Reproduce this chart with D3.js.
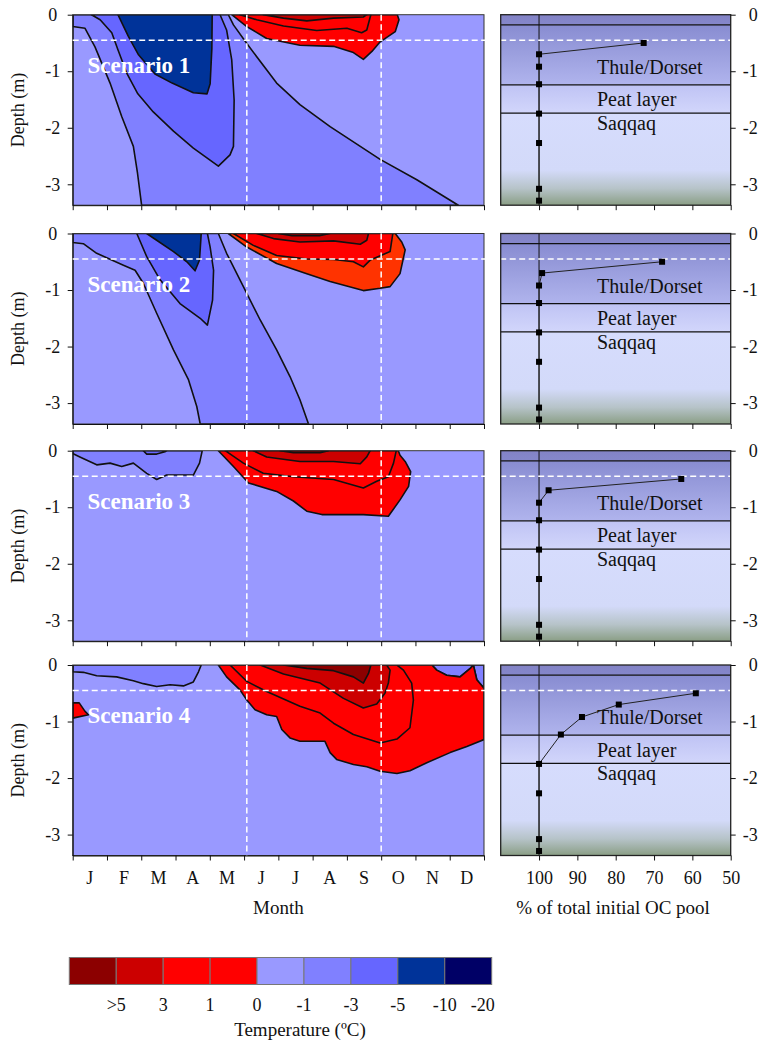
<!DOCTYPE html>
<html>
<head>
<meta charset="utf-8">
<script src="https://cdn.jsdelivr.net/npm/d3@7"></script>
<style>
  body { margin: 0; background: #fff; }
  svg { display: block; }
  svg text { font-family: "Liberation Serif", "DejaVu Serif", serif; }
</style>
</head>
<body>
<svg width="762" height="1043"></svg>
<script>
// ---- data ----
const months = ["J", "F", "M", "A", "M", "J", "J", "A", "S", "O", "N", "D"];
const monthTicks = [0, 1, 2, 3, 4, 5, 6, 7, 8, 9, 10, 11, 12];
const depthTicks = [0, -1, -2, -3];
const ocTicks = [100, 90, 80, 70, 60, 50];
const scenarioNames = ["Scenario 1", "Scenario 2", "Scenario 3", "Scenario 4"];

// sampled depths (m) for the OC profiles and % of initial OC pool left
const sampleDepths = [-0.5, -0.7, -0.92, -1.23, -1.75, -2.27, -3.08, -3.29];
const ocScenario1 = [72.7, 100, 100, 100, 100, 100, 100, 100];
const ocScenario2 = [67.9, 99.2, 100, 100, 100, 100, 100, 100];
const ocScenario3 = [62.9, 97.5, 100, 100, 100, 100, 100, 100];
const ocScenario4 = [59.1, 79.2, 88.8, 94.3, 100, 100, 100, 100];

const layerNames = ["", "Thule/Dorset", "Peat layer", "Saqqaq"];
const layerTops = [0, -0.18, -1.24, -1.74];
const layerBottoms = [-0.18, -1.24, -1.74, -3.37];

const thawDepth = -0.45;          // white dashed horizontal
const markerMonths = [5.08, 9.0];  // white dashed verticals

const legendKeys = ["gt5", "gt3", "gt1", "gt0", "lt0", "lt1", "lt3", "lt5", "lt10"];
const legendLabels = [">5", "3", "1", "0", "-1", "-3", "-5", "-10", "-20"];

// temperature isolines as [month, depth] polygons, in drawing order
const scenario1Bands = [
  ["lt1", [[0,0],[0,-0.21],[0.36,-0.24],[0.65,-0.57],[1.09,-1.21],[1.43,-1.80],[1.77,-2.33],[1.89,-2.80],[2.01,-3.37],[11.25,-3.37],[10.04,-2.92],[8.97,-2.56],[7.51,-1.98],[6.63,-1.59],[5.95,-1.21],[5.08,-0.51],[4.69,-0.18],[4.54,0]]],
  ["lt3", [[0.55,0],[0.80,-0.09],[1.14,-0.32],[1.32,-0.62],[1.58,-1.04],[1.90,-1.40],[2.35,-1.72],[2.94,-2.06],[3.52,-2.36],[4.25,-2.68],[4.59,-2.48],[4.69,-2.33],[4.71,-1.51],[4.64,-0.80],[4.49,-0.27],[4.30,0]]],
  ["lt5", [[1.32,0],[1.62,-0.38],[1.92,-0.71],[2.40,-1.05],[2.90,-1.21],[3.52,-1.38],[3.92,-1.40],[4.01,-1.22],[4.06,-0.60],[4.07,0]]],
  ["gt0", [[4.64,0],[5.08,-0.21],[5.66,-0.42],[6.63,-0.54],[7.61,-0.56],[8.19,-0.67],[8.48,-0.79],[8.73,-0.65],[8.97,-0.48],[9.41,-0.30],[9.52,-0.09],[9.47,0]]],
  ["gt1", [[4.88,0],[5.37,-0.09],[6.15,-0.20],[7.12,-0.28],[8.00,-0.24],[8.43,-0.32],[8.58,-0.27],[8.68,-0.04],[8.70,0]]],
  ["gt3", [[5.56,0],[6.15,-0.06],[6.83,-0.11],[7.61,-0.06],[8.48,-0.04],[8.58,0]]]
];

const scenario2Bands = [
  ["lt1", [[0,0],[0,-0.16],[0.31,-0.18],[0.70,-0.35],[1.48,-0.56],[1.82,-0.65],[2.06,-0.88],[2.45,-1.41],[2.94,-2.06],[3.38,-2.59],[3.62,-3.06],[3.72,-3.37],[6.88,-3.37],[6.63,-2.94],[6.34,-2.53],[5.95,-2.06],[5.47,-1.53],[4.98,-0.94],[4.49,-0.35],[4.25,0]]],
  ["lt3", [[1.87,0],[2.16,-0.41],[2.55,-0.82],[3.13,-1.24],[3.72,-1.50],[3.93,-1.62],[4.08,-1.18],[4.11,-0.65],[4.01,-0.24],[3.93,0]]],
  ["lt5", [[2.16,0],[2.45,-0.12],[2.94,-0.32],[3.33,-0.50],[3.57,-0.66],[3.70,-0.47],[3.75,0]]],
  ["gt0", [[4.54,0],[5.08,-0.24],[5.95,-0.53],[6.83,-0.71],[7.51,-0.85],[8.48,-1.01],[8.97,-0.97],[9.26,-0.94],[9.55,-0.71],[9.70,-0.29],[9.60,-0.15],[9.41,0]]],
  ["gt1", [[4.69,0],[5.27,-0.21],[5.95,-0.39],[6.83,-0.45],[7.61,-0.46],[8.19,-0.50],[8.48,-0.59],[8.68,-0.47],[9.26,-0.32],[9.34,0]]],
  ["gt3", [[5.37,0],[5.86,-0.09],[6.63,-0.15],[7.61,-0.13],[8.39,-0.19],[8.58,-0.12],[8.63,0]]],
  ["gt5", [[6.0,0],[6.4,-0.04],[7.2,-0.04],[7.5,0]]]
];

const scenario3Bands = [
  ["lt1", [[0,0],[0,-0.05],[0.21,-0.11],[0.70,-0.25],[1.09,-0.22],[1.43,-0.28],[1.77,-0.22],[2.16,-0.40],[2.45,-0.51],[2.74,-0.43],[3.52,-0.43],[3.70,-0.22],[3.78,0]]],
  ["lt3", [[2.06,0],[2.16,-0.06],[2.45,-0.06],[2.69,-0.02],[2.74,0]]],
  ["gt0", [[4.25,0],[4.69,-0.28],[5.13,-0.57],[5.95,-0.72],[6.44,-0.89],[6.83,-1.07],[7.27,-1.13],[8.48,-1.13],[9.21,-1.16],[9.55,-0.87],[9.80,-0.63],[9.86,-0.37],[9.70,-0.19],[9.55,-0.08],[9.50,0]]],
  ["gt1", [[4.45,0],[4.98,-0.22],[5.56,-0.40],[6.44,-0.46],[7.61,-0.51],[8.48,-0.66],[8.87,-0.54],[9.21,-0.46],[9.36,-0.22],[9.44,0]]],
  ["gt3", [[5.27,0],[5.66,-0.11],[6.63,-0.19],[7.61,-0.19],[8.39,-0.23],[8.58,-0.11],[8.68,0]]],
  ["gt5", [[6.05,0],[6.44,-0.035],[7.22,-0.035],[7.46,0]]]
];

const scenario4Bands = [
  ["lt1", [[0,0],[0,-0.12],[0.31,-0.13],[0.70,-0.19],[1.28,-0.21],[1.77,-0.28],[2.06,-0.33],[2.45,-0.38],[2.84,-0.35],[3.23,-0.37],[3.52,-0.30],[3.67,-0.12],[3.75,0]]],
  ["lt1", [[10.48,0],[10.62,-0.09],[10.91,-0.18],[11.30,-0.21],[11.60,-0.06],[11.69,0]]],
  ["lt1", [[11.69,0],[11.79,-0.26],[12,-0.41],[12,0]]],
  ["gt0", [[4.25,0],[4.49,-0.21],[4.88,-0.44],[5.08,-0.62],[5.32,-0.79],[5.66,-0.88],[5.95,-0.91],[6.10,-1.14],[6.34,-1.29],[6.63,-1.35],[7.36,-1.35],[7.51,-1.55],[7.70,-1.67],[8.19,-1.76],[8.58,-1.80],[8.97,-1.88],[9.46,-1.92],[9.84,-1.87],[10.33,-1.73],[11.01,-1.55],[11.50,-1.44],[12,-1.32],[12,-0.41],[11.79,-0.26],[11.69,0],[11.60,-0.06],[11.30,-0.21],[10.91,-0.18],[10.62,-0.09],[10.48,0]]],
  ["gt0", [[0,-0.67],[0.19,-0.67],[0.36,-0.82],[0.46,-0.88],[0,-0.94]]],
  ["gt1", [[4.59,0],[5.08,-0.29],[5.66,-0.47],[6.63,-0.73],[7.22,-0.85],[7.61,-1.03],[8.19,-1.23],[8.97,-1.38],[9.46,-1.31],[9.84,-1.11],[9.94,-0.62],[9.89,-0.32],[9.65,-0.09],[9.46,0]]],
  ["gt3", [[5.47,0],[6.15,-0.16],[7.22,-0.32],[7.90,-0.59],[8.48,-0.76],[8.87,-0.69],[9.11,-0.50],[9.21,-0.32],[9.26,-0.09],[9.16,0]]],
  ["gt5", [[6.15,0],[6.83,-0.06],[7.61,-0.10],[8.19,-0.21],[8.48,-0.32],[8.63,-0.15],[8.70,0]]]
];

const allBands = [scenario1Bands, scenario2Bands, scenario3Bands, scenario4Bands];
const allOc = [ocScenario1, ocScenario2, ocScenario3, ocScenario4];

// ---- styling / layout ----
const serif = "'Liberation Serif', 'DejaVu Serif', serif";

let svg = d3.select("svg")
      .attr("font-family", serif),
    width = +svg.attr("width"),
    height = +svg.attr("height");

const bandColor = {
  gt5: "#8c0000", gt3: "#cc0000", gt1: "#ff0000", gt0: "#ff0000",
  lt0: "#9999ff", lt1: "#8080ff", lt3: "#6666ff", lt5: "#003399", lt10: "#000066"
};
// scenario 2 draws its 0..1 band in orange-red
const bandOverride = [{}, { gt0: "#ff3300" }, {}, {}];

const rowTops = [14.7, 233.5, 450.7, 665];
const rowH = 190.5;
const depthMin = -3.37;

const x = d3.scaleLinear().domain([0, 12]).range([72.7, 484]);
const xr = d3.scaleLinear().domain([110, 50]).range([500.7, 730.7]);

const defs = svg.append("defs");

const addGradient = (id, stops) => {
  const g = defs.append("linearGradient").attr("id", id)
    .attr("x1", 0).attr("y1", 0).attr("x2", 0).attr("y2", 1);
  stops.forEach(s => g.append("stop").attr("offset", s[0]).attr("stop-color", s[1]));
};
addGradient("lay0", [[0, "#8383c6"], [1, "#8587cb"]]);
addGradient("lay1", [[0, "#888cd1"], [1, "#b0b4ed"]]);
addGradient("lay2", [[0, "#bfc3f4"], [1, "#d2d6fb"]]);
addGradient("lay3", [[0, "#d6dcfd"], [0.62, "#d3daf9"], [0.82, "#b6c3c8"], [1, "#8a9e85"]]);

const polyLine = d3.line().curve(d3.curveLinearClosed);

// text helper so every label gets the serif face explicitly
const label = (sel) => sel.attr("font-family", serif).attr("fill", "#111");

const styleAxis = (g, size) => {
  g.attr("font-family", serif).attr("font-size", size);
  g.selectAll("line, path").attr("stroke", "#111");
  g.selectAll("text").attr("font-family", serif).attr("fill", "#111");
};

const drawRow = (i) => {
  const top = rowTops[i];
  const y = d3.scaleLinear().domain([depthMin, 0]).range([top + rowH, top]);
  const last = i === rowTops.length - 1;

  // --- temperature contour panel ---
  defs.append("clipPath").attr("id", "clip" + i)
    .append("rect")
    .attr("x", x(0)).attr("y", y(0))
    .attr("width", x(12) - x(0)).attr("height", y(depthMin) - y(0));

  const plot = svg.append("g").attr("clip-path", `url(#clip${i})`);
  plot.append("rect")
    .attr("x", x(0)).attr("y", y(0))
    .attr("width", x(12) - x(0)).attr("height", y(depthMin) - y(0))
    .attr("fill", bandColor.lt0);

  polyLine.x(d => x(d[0])).y(d => y(d[1]));
  plot.selectAll("path.band")
    .data(allBands[i])
    .enter().append("path")
      .attr("class", "band")
      .attr("d", d => polyLine(d[1]))
      .attr("fill", d => bandOverride[i][d[0]] || bandColor[d[0]])
      .attr("stroke", "#111")
      .attr("stroke-width", 1.6)
      .attr("stroke-linejoin", "round");

  svg.append("rect")
    .attr("x", x(0)).attr("y", y(0))
    .attr("width", x(12) - x(0)).attr("height", y(depthMin) - y(0))
    .attr("fill", "none").attr("stroke", "#333").attr("stroke-width", 1);

  // month markers
  svg.selectAll(null)
    .data(markerMonths)
    .enter().append("line")
      .attr("x1", d => x(d)).attr("x2", d => x(d))
      .attr("y1", y(0)).attr("y2", y(depthMin))
      .attr("stroke", "#fff").attr("stroke-width", 1.5)
      .attr("stroke-dasharray", "6,3.5");

  svg.append("text")
    .call(label)
    .attr("x", x(0.43)).attr("y", top + 58)
    .attr("fill", "#fff").attr("font-weight", "bold").attr("font-size", 23)
    .text(scenarioNames[i]);

  const ax = svg.append("g")
    .attr("transform", `translate(${x(0)},0)`)
    .call(d3.axisLeft(y).tickValues(depthTicks).tickSize(5).tickSizeOuter(0).tickFormat(d => d));
  styleAxis(ax, 18);
  ax.selectAll("text").attr("text-anchor", "middle").attr("x", -20);

  const bx = svg.append("g")
    .attr("transform", `translate(0,${y(depthMin)})`)
    .call(d3.axisBottom(x).tickValues(monthTicks).tickSize(5).tickSizeOuter(0).tickFormat(""));
  styleAxis(bx, 18);

  svg.append("text")
    .call(label)
    .attr("transform", `translate(24,${top + rowH / 2}) rotate(-90)`)
    .attr("text-anchor", "middle").attr("font-size", 18)
    .text("Depth (m)");

  // --- OC profile panel ---
  svg.selectAll(null)
    .data(layerNames)
    .enter().append("rect")
      .attr("x", xr(110)).attr("width", xr(50) - xr(110))
      .attr("y", (d, j) => y(layerTops[j]))
      .attr("height", (d, j) => y(layerBottoms[j]) - y(layerTops[j]))
      .attr("fill", (d, j) => `url(#lay${j})`);

  svg.selectAll(null)
    .data(layerBottoms.slice(0, 3))
    .enter().append("line")
      .attr("x1", xr(110)).attr("x2", xr(50))
      .attr("y1", d => y(d)).attr("y2", d => y(d))
      .attr("stroke", "#111").attr("stroke-width", 1.3);

  svg.selectAll(null)
    .data(layerNames.slice(1))
    .enter().append("text")
      .call(label)
      .attr("x", 597)
      .attr("y", (d, j) => top + [59, 91.5, 115][j])
      .attr("font-size", 20)
      .text(d => d);

  svg.append("line")
    .attr("x1", xr(100)).attr("x2", xr(100))
    .attr("y1", y(0)).attr("y2", y(depthMin))
    .attr("stroke", "#111").attr("stroke-width", 1);

  // dashed active-layer line across both panels
  svg.append("line")
    .attr("x1", x(0)).attr("x2", xr(50))
    .attr("y1", y(thawDepth)).attr("y2", y(thawDepth))
    .attr("stroke", "#fff").attr("stroke-width", 1.5)
    .attr("stroke-dasharray", "6,3.5");

  const profile = sampleDepths.map((dep, k) => [allOc[i][k], dep]);
  svg.append("path")
    .datum(profile)
    .attr("d", d3.line().x(d => xr(d[0])).y(d => y(d[1])))
    .attr("fill", "none").attr("stroke", "#222").attr("stroke-width", 1);

  svg.selectAll(null)
    .data(profile)
    .enter().append("rect")
      .attr("x", d => xr(d[0]) - 3).attr("y", d => y(d[1]) - 3)
      .attr("width", 6).attr("height", 6)
      .attr("fill", "#000");

  svg.append("rect")
    .attr("x", xr(110)).attr("y", y(0))
    .attr("width", xr(50) - xr(110)).attr("height", y(depthMin) - y(0))
    .attr("fill", "none").attr("stroke", "#222").attr("stroke-width", 1.3);

  const ar = svg.append("g")
    .attr("transform", `translate(${xr(50)},0)`)
    .call(d3.axisRight(y).tickValues(depthTicks).tickSize(5).tickSizeOuter(0).tickFormat(d => d));
  styleAxis(ar, 18);
  ar.select(".domain").remove();
  ar.selectAll("text").attr("text-anchor", "end").attr("x", 27);

  const br = svg.append("g")
    .attr("transform", `translate(0,${y(depthMin)})`)
    .call(d3.axisBottom(xr).tickValues(ocTicks).tickSize(5).tickSizeOuter(0)
      .tickFormat(last ? (d => d) : ""));
  styleAxis(br, 18);
  br.select(".domain").remove();
  br.selectAll("text").attr("dy", null).attr("y", 28);

  if (last) {
    svg.selectAll(null)
      .data(months)
      .enter().append("text")
        .call(label)
        .attr("x", (d, k) => x(k + 0.5))
        .attr("y", y(depthMin) + 28)
        .attr("text-anchor", "middle").attr("font-size", 18)
        .text(d => d);

    svg.append("text")
      .call(label)
      .attr("x", x(6)).attr("y", y(depthMin) + 58)
      .attr("text-anchor", "middle").attr("font-size", 19)
      .text("Month");

    svg.append("text")
      .call(label)
      .attr("x", 613).attr("y", y(depthMin) + 58)
      .attr("text-anchor", "middle").attr("font-size", 19)
      .text("% of total initial OC pool");
  }
};

d3.range(rowTops.length).forEach(drawRow);

// ---- temperature legend ----
const lx = d3.scaleBand().domain(legendKeys).range([69.3, 491.7]);

svg.selectAll(null)
  .data(legendKeys)
  .enter().append("rect")
    .attr("x", d => lx(d)).attr("y", 957.5)
    .attr("width", lx.bandwidth()).attr("height", 27)
    .attr("fill", d => bandColor[d])
    .attr("stroke", "#777").attr("stroke-width", 1);

svg.selectAll(null)
  .data(legendLabels)
  .enter().append("text")
    .call(label)
    .attr("x", (d, k) => k === legendLabels.length - 1 ? lx.range()[1] + 3 : lx(legendKeys[k]) + lx.bandwidth())
    .attr("y", 1011)
    .attr("text-anchor", (d, k) => k === legendLabels.length - 1 ? "end" : "middle")
    .attr("font-size", 18)
    .text(d => d);

svg.append("text")
  .call(label)
  .attr("x", 300).attr("y", 1036)
  .attr("text-anchor", "middle").attr("font-size", 19)
  .text("Temperature (ºC)");
</script>
</body>
</html>
